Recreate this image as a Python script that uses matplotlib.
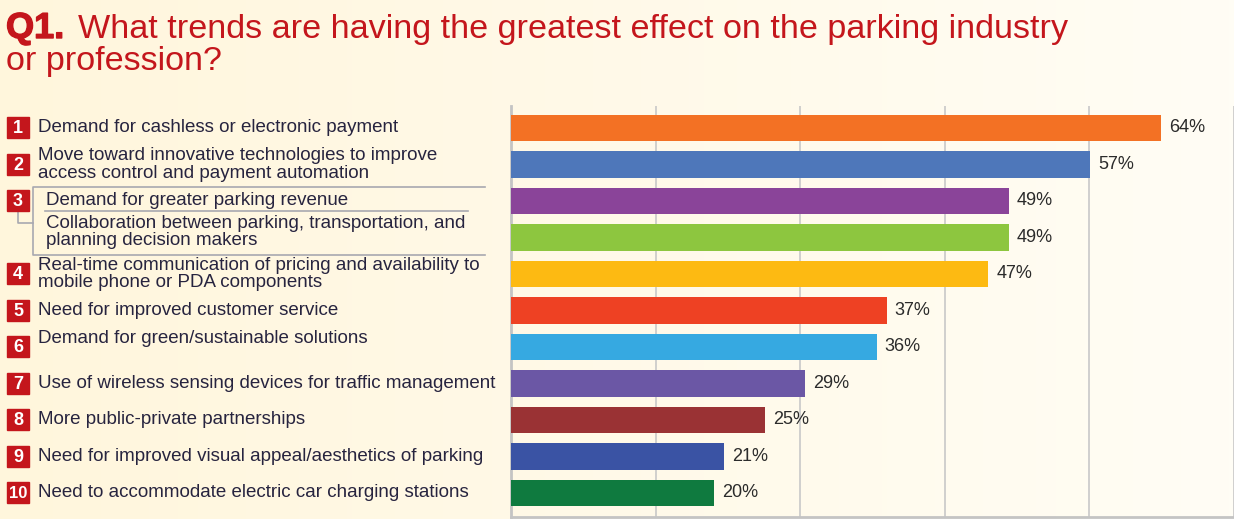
import numpy as np
import matplotlib.pyplot as plt
import matplotlib.patheffects as pe
from matplotlib.transforms import blended_transform_factory
from matplotlib.patches import Rectangle
from matplotlib.colors import LinearSegmentedColormap

plt.rcParams['font.family'] = ['Liberation Sans', 'DejaVu Sans']

# Survey data
numbers = ['1', '2', '3', '', '4', '5', '6', '7', '8', '9', '10']
labels = [
    'Demand for cashless or electronic payment',
    'Move toward innovative technologies to improve\naccess control and payment automation',
    'Demand for greater parking revenue',
    'Collaboration between parking, transportation, and\nplanning decision makers',
    'Real-time communication of pricing and availability to\nmobile phone or PDA components',
    'Need for improved customer service',
    'Demand for green/sustainable solutions',
    'Use of wireless sensing devices for traffic management',
    'More public-private partnerships',
    'Need for improved visual appeal/aesthetics of parking',
    'Need to accommodate electric car charging stations',
]
values = [64, 57, 49, 49, 47, 37, 36, 29, 25, 21, 20]
colors = ['#F37124', '#4E77BA', '#8A4499', '#8DC63F', '#FDBA12', '#EE4123',
          '#36A9E1', '#6B57A5', '#9A3234', '#3A53A4', '#0F7A3F']

W, H = 1234, 519
fig = plt.figure(figsize=(W / 100, H / 100), dpi=100)

# cream gradient background
bg = fig.add_axes([0, 0, 1, 1], zorder=-10)
grad = np.linspace(0, 1, 256).reshape(1, -1)
cmap = LinearSegmentedColormap.from_list('cream', ['#FFF6DC', '#FFFDF5'])
bg.imshow(grad, aspect='auto', cmap=cmap, extent=[0, 1, 0, 1])
bg.set_axis_off()

ax = fig.add_axes([511 / W, 2 / H, 723 / W, 411 / H])
ax.set_facecolor('none')
ypos = np.arange(len(values))
ax.barh(ypos, values, height=0.72, color=colors, zorder=3)
ax.set_ylim(len(values) - 1 + 0.66, -0.6)
xmax = 71.2
ax.set_xlim(0, xmax)
ax.set_xticks(np.linspace(0, xmax, 6))
ax.grid(axis='x', color='#C8C8C8', lw=1.2, zorder=0)
ax.tick_params(left=False, bottom=False, labelleft=False, labelbottom=False)
for s in ['top', 'right']:
    ax.spines[s].set_visible(False)
for s in ['left', 'bottom']:
    ax.spines[s].set_color('#C4C4C4')
    ax.spines[s].set_linewidth(2)

for y, v in zip(ypos, values):
    ax.text(v + 0.8, y, f'{v}%', va='center', ha='left', fontsize=13,
            color='#2B2B2B', zorder=4)

# left labels: x in figure fraction, y in data
tr = blended_transform_factory(fig.transFigure, ax.transData)
text_color = '#27243F'
red = '#C4161C'
offsets = {6: -0.22, 3: -0.14}
for i, (n, lab) in enumerate(zip(numbers, labels)):
    x = 38 if i not in (2, 3) else 46
    yy = i + offsets.get(i, 0)
    fig.text(x / W, yy, lab, transform=tr, fontsize=13.5, color=text_color,
             va='center', ha='left', linespacing=1.02)
    if n:
        bh = 0.58
        fig.patches.append(Rectangle((7 / W, i - bh / 2), 22 / W, bh,
                                     transform=tr, color=red, zorder=2))
        fig.text(18 / W, i + 0.02, n, transform=tr, fontsize=13 if n != '10' else 12,
                 color='white', fontweight='bold', va='center', ha='center')

# bracket around item 3
lc = '#A8A8B0'
fig.lines.append(plt.Line2D([485 / W, 33 / W, 33 / W, 485 / W],
                            [2 - 0.39, 2 - 0.39, 3 + 0.47, 3 + 0.47],
                            transform=tr, color=lc, lw=1.2))
fig.lines.append(plt.Line2D([45 / W, 468 / W], [2 + 0.28, 2 + 0.28],
                            transform=tr, color=lc, lw=1.2))
fig.lines.append(plt.Line2D([18 / W, 18 / W, 33 / W], [2 + 0.3, 2 + 0.6, 2 + 0.6],
                            transform=tr, color=lc, lw=1.2))

# title
title_color = '#C4161C'
fig.text(6 / W, 1 - 38 / H, 'Q1.', fontsize=26, fontweight='bold', color=title_color,
         va='baseline', ha='left',
         path_effects=[pe.withStroke(linewidth=1.0, foreground=title_color)])
fig.text(78 / W, 1 - 38 / H, 'What trends are having the greatest effect on the parking industry',
         fontsize=24.6, color=title_color, va='baseline', ha='left')
fig.text(6 / W, 1 - 70 / H, 'or profession?', fontsize=24.6, color=title_color,
         va='baseline', ha='left')

fig.savefig('out.png', dpi=100)
